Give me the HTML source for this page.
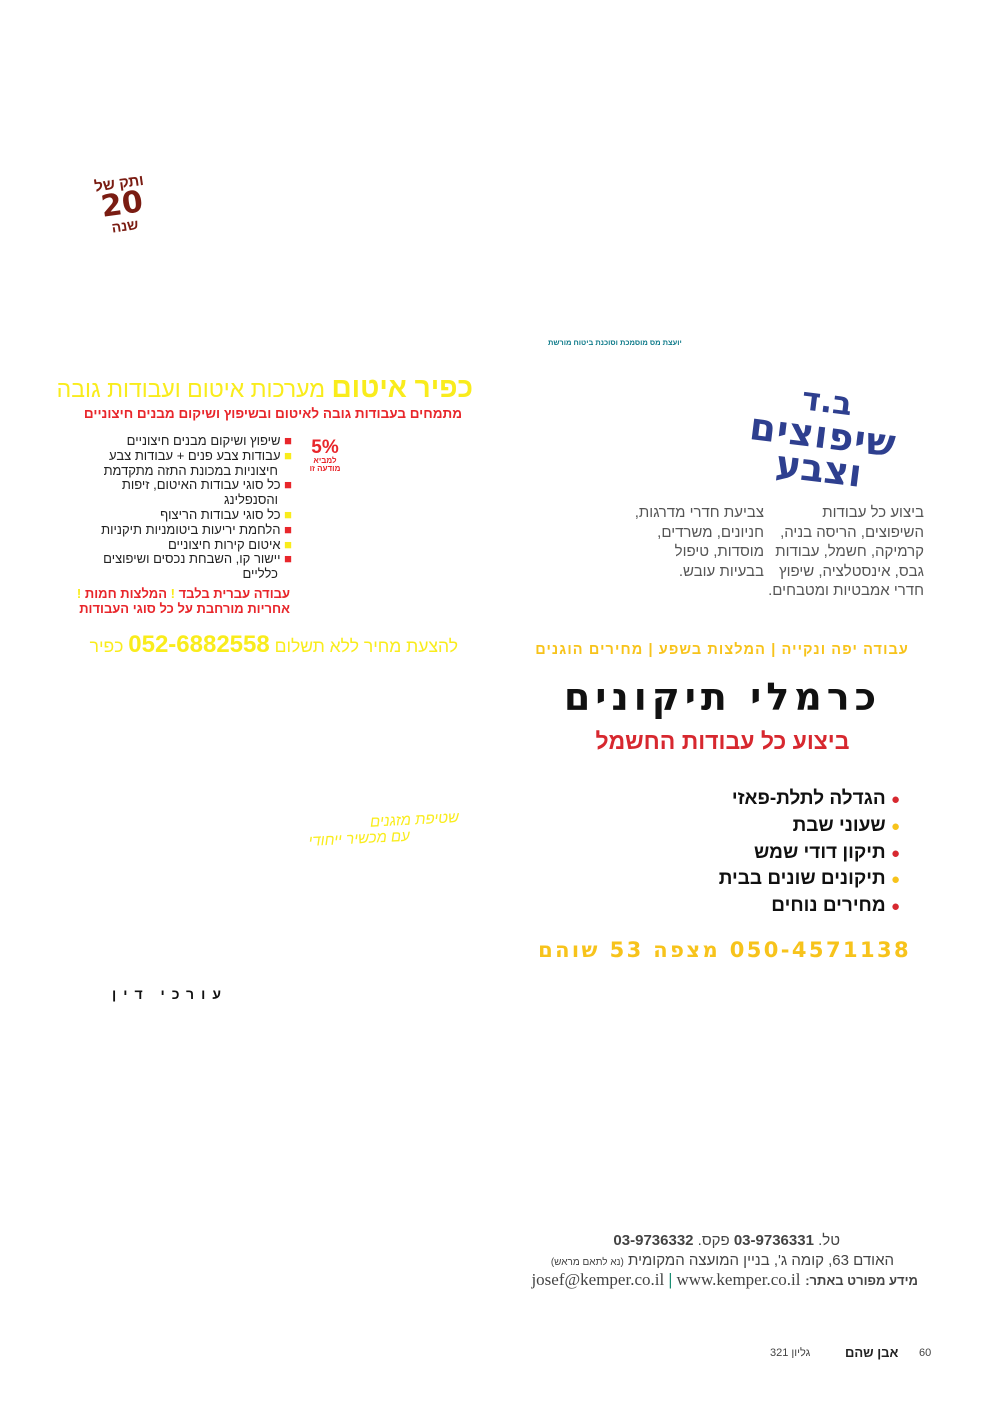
<!DOCTYPE html>
<html lang="he" dir="rtl"><head><meta charset="utf-8">
<style>
body{margin:0;background:#fff;}
#p{position:relative;width:995px;height:1402px;overflow:hidden;font-family:"Liberation Sans","Noto Sans CJK SC",sans-serif;}
.a{position:absolute;white-space:nowrap;direction:rtl;}
</style></head><body><div id="p">

<div class="a" style="left:90px;top:176px;width:64px;text-align:center;transform:rotate(-8deg);color:#7a1c12;font-weight:bold;line-height:1">
<div style="font-size:15px">ותק של</div><div style="font-size:30px;font-family:'DejaVu Sans',sans-serif;line-height:28px">20</div><div style="font-size:14px">שנה</div></div>

<div class="a" style="left:548px;top:338px;font-size:7.5px;font-weight:bold;color:#0f7b8a">יועצת מס מוסמכת וסוכנת ביטוח מורשת</div>

<!-- Kfir -->
<div class="a" style="right:522px;top:371px;font-size:23px;color:#f9ec1c;line-height:34px"><b style="font-size:28px">כפיר איטום</b> <span style="font-weight:normal">מערכות איטום ועבודות גובה</span></div>
<div class="a" style="right:533px;top:406px;font-size:13.5px;font-weight:bold;color:#e8262b">מתמחים בעבודות גובה לאיטום ובשיפוץ ושיקום מבנים חיצוניים</div>
<div class="a" style="right:703px;top:434px;font-size:13px;line-height:14.8px;color:#222">
<div><span style="color:#e8262b">■</span> שיפוץ ושיקום מבנים חיצוניים</div>
<div><span style="color:#f9ec1c">■</span> עבודות צבע פנים + עבודות צבע</div>
<div style="margin-right:14px">חיצוניות במכונת התזה מתקדמת</div>
<div><span style="color:#e8262b">■</span> כל סוגי עבודות האיטום, זיפות</div>
<div style="margin-right:14px">והסנפלינג</div>
<div><span style="color:#f9ec1c">■</span> כל סוגי עבודות הריצוף</div>
<div><span style="color:#e8262b">■</span> הלחמת יריעות ביטומניות תיקניות</div>
<div><span style="color:#f9ec1c">■</span> איטום קירות חיצוניים</div>
<div><span style="color:#e8262b">■</span> יישור קו, השבחת נכסים ושיפוצים</div>
<div style="margin-right:14px">כלליים</div></div>
<div class="a" style="left:304px;top:438px;width:42px;text-align:center;color:#e8262b;font-weight:bold;line-height:1"><div style="font-size:19px">5%</div><div style="font-size:8px">למביא</div><div style="font-size:8px">מודעה זו</div></div>
<div class="a" style="right:705px;top:586px;font-size:13px;font-weight:bold;color:#e8262b;line-height:15px"><div>עבודה עברית בלבד <span style="color:#f9ec1c">!</span> המלצות חמות <span style="color:#f9ec1c">!</span></div><div>אחריות מורחבת על כל סוגי העבודות</div></div>
<div class="a" style="right:537px;top:632px;font-size:17.5px;color:#f9ec1c;line-height:26px">להצעת מחיר ללא תשלום <b style="font-size:24px">052-6882558</b> כפיר</div>

<!-- logo -->
<div class="a" style="left:748px;top:384px;width:150px;text-align:center;color:#2e3f8f;font-weight:bold;transform:rotate(7deg);line-height:34px;font-size:38px;font-family:'DejaVu Sans',sans-serif">
<div style="font-size:32px">ב.ד</div><div style="letter-spacing:1px">שיפוצים</div><div>וצבע</div></div>

<div class="a" style="right:71px;top:503px;font-size:15px;line-height:19.5px;color:#555">ביצוע כל עבודות<br>השיפוצים, הריסה בניה,<br>קרמיקה, חשמל, עבודות<br>גבס, אינסטלציה, שיפוץ<br>חדרי אמבטיות ומטבחים.</div>
<div class="a" style="right:231px;top:503px;font-size:15px;line-height:19.5px;color:#555">צביעת חדרי מדרגות,<br>חניונים, משרדים,<br>מוסדות, טיפול<br>בבעיות עובש.</div>

<!-- Karmeli -->
<div class="a" style="right:86px;top:642px;font-size:14.5px;font-weight:bold;color:#f7c31b;letter-spacing:1.1px">עבודה יפה ונקייה | המלצות בשפע | מחירים הוגנים</div>
<div class="a" style="left:540px;width:365px;top:675px;text-align:center;font-size:38px;font-weight:bold;color:#111;letter-spacing:5px;font-family:'DejaVu Sans',sans-serif">כרמלי תיקונים</div>
<div class="a" style="left:560px;width:325px;top:728px;text-align:center;font-size:23px;font-weight:bold;color:#d7282f">ביצוע כל עבודות החשמל</div>
<div class="a" style="right:95px;top:786px;font-size:19px;font-weight:bold;color:#111;line-height:25.8px">
<div><span style="color:#d7282f;font-size:15px">●</span> הגדלה לתלת-פאזי</div>
<div><span style="color:#f7c31b;font-size:15px">●</span> שעוני שבת</div>
<div><span style="color:#d7282f;font-size:15px">●</span> תיקון דודי שמש</div>
<div><span style="color:#f7c31b;font-size:15px">●</span> תיקונים שונים בבית</div>
<div><span style="color:#d7282f;font-size:15px">●</span> מחירים נוחים</div></div>
<div class="a" style="right:84px;top:938px;font-size:21px;font-weight:bold;color:#f7c31b;letter-spacing:2.4px;font-family:'DejaVu Sans',sans-serif">050-4571138 מצפה 53 שוהם</div>

<div class="a" style="left:308px;top:814px;font-size:15px;color:#f9ec1c;font-style:italic;line-height:16px;transform:rotate(-3deg)"><div>שטיפת מזגנים</div><div style="margin-right:50px">עם מכשיר ייחודי</div></div>

<div class="a" style="left:112px;top:986px;font-size:14px;font-weight:bold;color:#111;letter-spacing:7px">עורכי דין</div>

<!-- footer contact -->
<div class="a" style="right:155px;top:1232px;font-size:15px;color:#444">טל. <b>03-9736331</b> פקס. <b>03-9736332</b></div>
<div class="a" style="right:101px;top:1252px;font-size:15px;color:#444">האודם 63, קומה ג', בניין המועצה המקומית <span style="font-size:10px">(נא לתאם מראש)</span></div>
<div class="a" style="right:77px;top:1270px;font-size:17px;color:#444"><b style="font-size:13px">מידע מפורט באתר:</b> <span dir="ltr" style="font-family:'Liberation Serif',serif;unicode-bidi:isolate">josef@kemper.co.il <b style="color:#138a6e">|</b> www.kemper.co.il</span></div>

<div class="a" style="left:770px;top:1347px;font-size:11px;color:#444">גליון 321</div>
<div class="a" style="left:845px;top:1345px;font-size:13px;font-weight:bold;color:#222">אבן שהם</div>
<div class="a" style="left:919px;top:1347px;font-size:11px;color:#444">60</div>
</div></body></html>
